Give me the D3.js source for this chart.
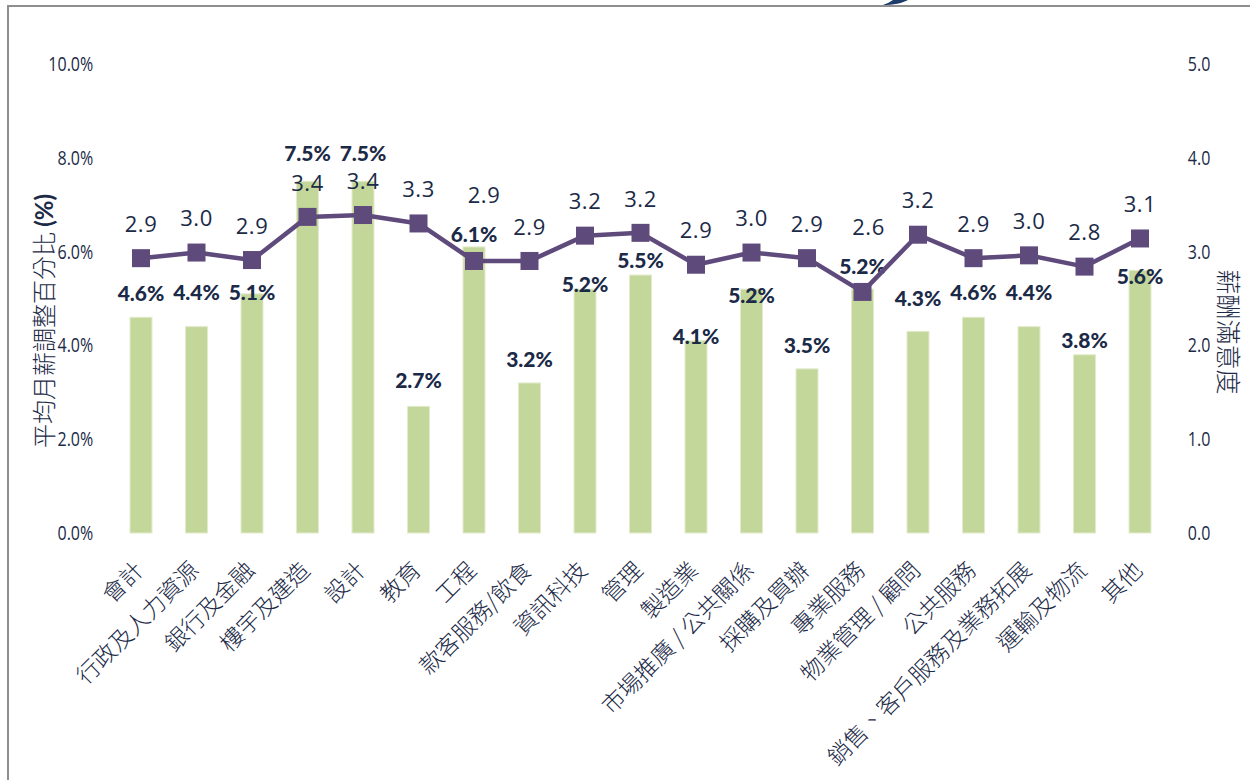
<!DOCTYPE html>
<html>
<head>
<meta charset="utf-8">
<script src="https://cdn.jsdelivr.net/npm/d3@7"></script>
<style>
  body { margin: 0; background: #fff; }
  svg { display: block; }
</style>
</head>
<body>
<div id="chart"></div>
<script>
// salary adjustment (bars, left axis) vs pay satisfaction (line, right axis)
const categories = ["會計", "行政及人力資源", "銀行及金融", "樓宇及建造", "設計", "教育", "工程",
    "款客服務/飲食", "資訊科技", "管理", "製造業", "市場推廣 / 公共關係", "採購及買辦", "專業服務",
    "物業管理 / 顧問", "公共服務", "銷售、客戶服務及業務拓展", "運輸及物流", "其他"];
const salaryAdjust = [4.6, 4.4, 5.1, 7.5, 7.5, 2.7, 6.1, 3.2, 5.2, 5.5, 4.1, 5.2, 3.5, 5.2, 4.3, 4.6, 4.4, 3.8, 5.6];
const satisfaction = [2.93, 2.99, 2.91, 3.37, 3.39, 3.30, 2.90, 2.90, 3.17, 3.20, 2.86, 2.99, 2.93, 2.57, 3.18, 2.93, 2.96, 2.84, 3.14];
const leftTicks = [0, 2, 4, 6, 8, 10];
const rightTicks = [0, 1, 2, 3, 4, 5];

// hand nudges so labels dodge the line (as in the original)
const barLabelNudge = [0, -10, 23, -4, -4, -2, 12, 1, 20, 10, 20, 31, 1, 2, -9, -1, -10, 10, 30];
const lineLabelNudge = [0, 0, 0, 0, 0, 0, -32, 0, 0, 0, 0, 0, 0, -31, 0, 0, 0, 0, 0];
const lineLabelShiftX = [0, 0, 0, 0, 0, 0, 10, 0, 0, 0, 0, 0, 0, 6, 0, 0, 0, 0, 0];

const navy = "#1b2a47";
const purple = "#5f4a7c";
const green = "#c4d79b";

const width = 1250, height = 780;
const plotTop = 64, plotBottom = 533;

const svg = d3.select("#chart")
    .append("svg")
        .attr("width", width)
        .attr("height", height);

// frame of the slide
svg.append("path")
    .attr("d", "M8,780 L8,6 L1250,6")
    .attr("fill", "none")
    .attr("stroke", "#8e8e8e")
    .attr("stroke-width", 2);
// bit of a cut-off title glyph at the top
svg.append("path")
    .attr("d", "M883,5 C893,5 903,3 908,0 L893,0 C890,2 886,4 883,5 Z")
    .attr("fill", "#1d3c6a");

const x = d3.scaleBand()
    .domain(categories)
    .range([113.25, 1167.75]);

const yL = d3.scaleLinear()
    .domain([0, 10])
    .range([plotBottom, plotTop]);

const yR = d3.scaleLinear()
    .domain([0, 5])
    .range([plotBottom, plotTop]);

const cx = d => x(d) + x.bandwidth() / 2;
const barW = 22;

// condensed look for the tick numbers
function styleTicks(g) {
    g.select(".domain").remove();
    g.selectAll("text")
        .attr("fill", navy)
        .attr("transform", "scale(0.8,1)")
        .style("font-family", "'Open Sans', sans-serif")
        .style("font-size", "20px");
}

// left axis
svg.append("g")
    .attr("transform", "translate(94,0)")
    .call(d3.axisLeft(yL).tickValues(leftTicks).tickSize(0).tickPadding(1)
        .tickFormat(d => d.toFixed(1) + "%"))
    .call(styleTicks);

// right axis
svg.append("g")
    .attr("transform", "translate(1187,0)")
    .call(d3.axisRight(yR).tickValues(rightTicks).tickSize(0).tickPadding(1)
        .tickFormat(d3.format(".1f")))
    .call(styleTicks);

// bars
svg.append("g")
    .selectAll("rect")
    .data(categories)
    .join("rect")
        .attr("x", d => cx(d) - barW / 2)
        .attr("y", (d, i) => yL(salaryAdjust[i]))
        .attr("width", barW)
        .attr("height", (d, i) => yL(0) - yL(salaryAdjust[i]))
        .attr("fill", green)
        .attr("stroke", "#e2ebcd")
        .attr("stroke-width", 1);

// bar labels
svg.append("g")
    .selectAll("text")
    .data(categories)
    .join("text")
        .attr("x", d => cx(d))
        .attr("y", (d, i) => yL(salaryAdjust[i]) - 24 + barLabelNudge[i])
        .attr("dy", "0.35em")
        .attr("text-anchor", "middle")
        .attr("fill", navy)
        .style("font-family", "Lato, 'Open Sans', sans-serif")
        .style("font-weight", "900")
        .style("font-size", "21px")
        .text((d, i) => salaryAdjust[i].toFixed(1) + "%");

// satisfaction line
const line = d3.line()
    .x(d => cx(d))
    .y((d, i) => yR(satisfaction[i]));

svg.append("path")
    .datum(categories)
    .attr("fill", "none")
    .attr("stroke", purple)
    .attr("stroke-width", 4.5)
    .attr("stroke-linejoin", "round")
    .attr("d", line);

svg.append("g")
    .selectAll("rect")
    .data(categories)
    .join("rect")
        .attr("x", d => cx(d) - 9)
        .attr("y", (d, i) => yR(satisfaction[i]) - 9)
        .attr("width", 18)
        .attr("height", 18)
        .attr("fill", purple);

svg.append("g")
    .selectAll("text")
    .data(categories)
    .join("text")
        .attr("x", (d, i) => cx(d) + lineLabelShiftX[i])
        .attr("y", (d, i) => yR(satisfaction[i]) - 34 + lineLabelNudge[i])
        .attr("dy", "0.35em")
        .attr("text-anchor", "middle")
        .attr("fill", navy)
        .style("font-family", "'Open Sans', sans-serif")
        .style("font-size", "22px")
        .style("letter-spacing", "0.5px")
        .text((d, i) => satisfaction[i].toFixed(1));

// category labels, rotated
svg.append("g")
    .selectAll("text")
    .data(categories)
    .join("text")
        .attr("transform", d => `translate(${cx(d) - 2}, 566) rotate(-45)`)
        .attr("dy", "0.35em")
        .attr("text-anchor", "end")
        .attr("fill", navy)
        .style("font-family", "'Noto Sans CJK TC', sans-serif")
        .style("font-weight", "300")
        .style("font-size", "23px")
        .text(d => d);

// axis titles
const leftTitle = svg.append("text")
    .attr("transform", "translate(45, 321) rotate(-90)")
    .attr("dy", "0.35em")
    .attr("text-anchor", "middle")
    .attr("fill", navy)
    .style("font-family", "'Noto Sans CJK TC', sans-serif")
    .style("font-size", "24px");
leftTitle.append("tspan").style("font-weight", "300").text("平均月薪調整百分比 ");
leftTitle.append("tspan").style("font-weight", "700").style("font-family", "Lato, sans-serif").text("(%)");

svg.append("text")
    .attr("transform", "translate(1228, 332) rotate(90)")
    .attr("dy", "0.35em")
    .attr("text-anchor", "middle")
    .attr("fill", navy)
    .style("font-family", "'Noto Sans CJK TC', sans-serif")
    .style("font-weight", "300")
    .style("font-size", "25px")
    .text("薪酬滿意度");
</script>
</body>
</html>
